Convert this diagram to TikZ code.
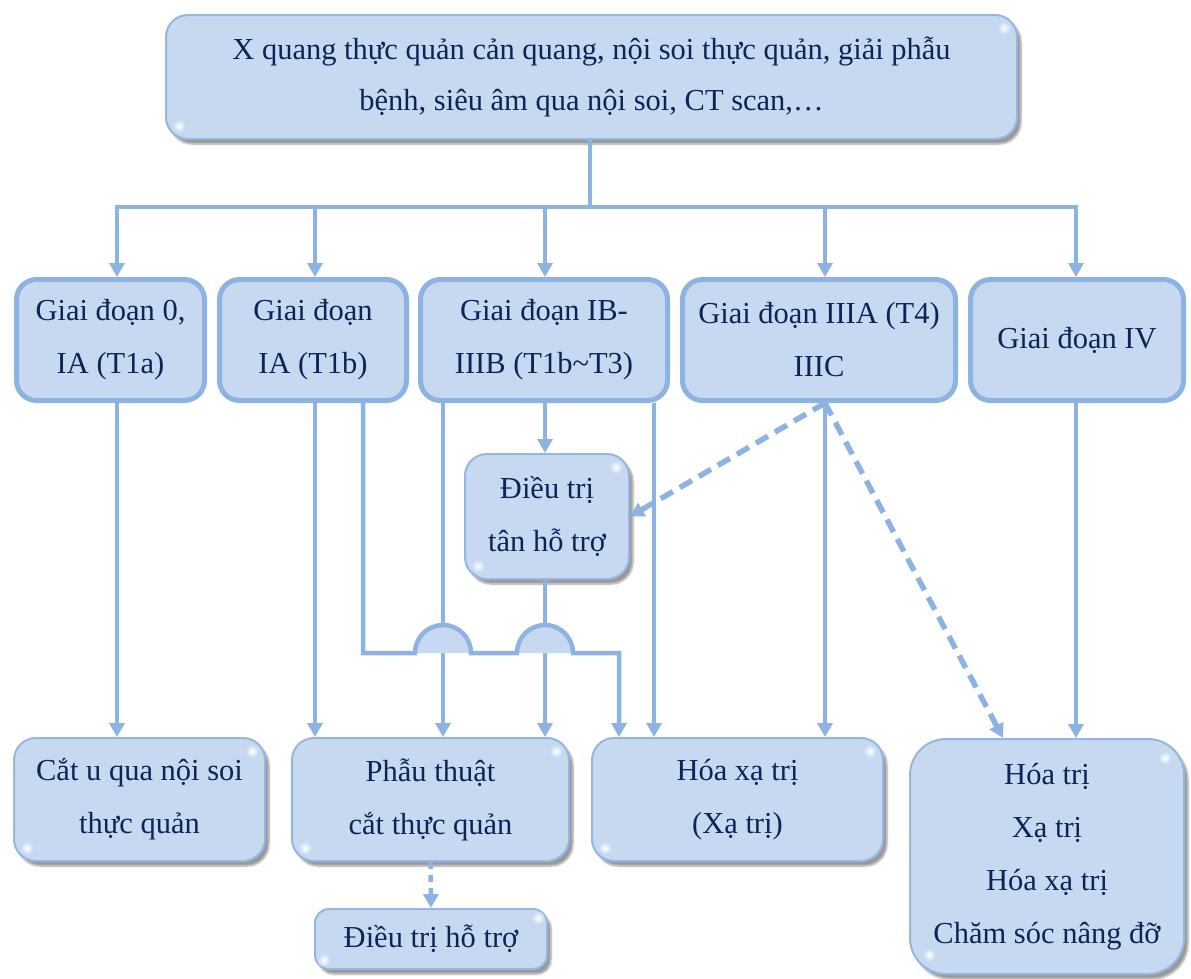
\documentclass[tikz,border=0pt]{standalone}
\usepackage{fontspec}
\setmainfont{Liberation Serif}
\usetikzlibrary{arrows.meta,shadows.blur,calc}
\definecolor{boxfill}{HTML}{C6D9F1}
\definecolor{boxline}{HTML}{8DB3E2}
\definecolor{glossline}{HTML}{95B6E0}
\definecolor{txt}{HTML}{0F2357}
\newcommand\glossspots[2][14]{%
  \shade[inner color=white, outer color=boxfill] ($(#2.north east)+(-#1,#1)$) circle (6.5pt);
  \shade[inner color=white, outer color=boxfill] ($(#2.south west)+(#1,-#1)$) circle (6.5pt);}
\begin{document}
\begin{tikzpicture}[x=1pt,y=-1pt,
  stage/.style={draw=boxline, line width=5pt, fill=boxfill, rounded corners=20pt,
    inner sep=0pt, align=center, minimum height=121pt, text=txt,
    font=\fontsize{30.5}{53}\selectfont},
  glossy/.style={draw=glossline, line width=2pt, fill=boxfill, rounded corners=22pt,
    inner sep=0pt, align=center, text=txt, font=\fontsize{30.5}{53}\selectfont,
    blur shadow={shadow xshift=4pt, shadow yshift=-5pt, shadow blur steps=6, shadow opacity=40}},
  conn/.style={draw=boxline, line width=4.5pt},
  arr/.style={conn, -{Triangle[width=15pt,length=14pt]}},
  dasharr/.style={arr, line width=5.5pt, dash pattern=on 14pt off 8pt},
  dotarr/.style={arr, dash pattern=on 7pt off 6pt}]
\useasboundingbox (0,0) rectangle (1191,978);

% top box
\node[glossy, minimum width=851pt, minimum height=124pt, font=\fontsize{30.5}{51}\selectfont]
  (top) at (591.5,77) {X quang thực quản cản quang, nội soi thực quản, giải phẫu\\bệnh, siêu âm qua nội soi, CT scan,…};

% stage boxes
\node[stage, minimum width=188pt] (s1) at (110.5,340) {Giai đoạn 0,\\IA (T1a)};
\node[stage, minimum width=187pt] (s2) at (313,340) {Giai đoạn\\IA (T1b)};
\node[stage, minimum width=247pt] (s3) at (544,340) {Giai đoạn IB-\\IIIB (T1b{\char"7E}T3)};
\node[stage, minimum width=273pt] (s4) at (819,340) {Giai đoạn IIIA (T4)\\IIIC};
\node[stage, minimum width=213pt] (s5) at (1077,340) {Giai đoạn IV};

% middle and bottom boxes
\node[glossy, minimum width=164pt, minimum height=125pt] (dt) at (547,516.5) {Điều trị\\tân hỗ trợ};
\node[glossy, minimum width=251pt, minimum height=123pt] (c1) at (139.5,799.5) {Cắt u qua nội soi\\thực quản};
\node[glossy, minimum width=277pt, minimum height=123pt] (c2) at (430.5,799.5) {Phẫu thuật\\cắt thực quản};
\node[glossy, minimum width=291pt, minimum height=123pt] (c3) at (737.5,799.5) {Hóa xạ trị\\(Xạ trị)};
\node[glossy, minimum width=274pt, minimum height=235pt, rounded corners=36pt] (c4) at (1047,856.5) {Hóa trị\\Xạ trị\\Hóa xạ trị\\Chăm sóc nâng đỡ};
\node[glossy, minimum width=232pt, minimum height=60pt, rounded corners=14pt] (ht) at (431,939) {Điều trị hỗ trợ};

\foreach \n in {top,dt,c1,c2,c3} {\glossspots{\n}}
\glossspots[20]{c4}
\glossspots[10]{ht}

% coordinates
\coordinate (bus) at (590,207);
\coordinate (b1) at (117,207);
\coordinate (b2) at (315,207);
\coordinate (b3) at (545,207);
\coordinate (b4) at (825,207);
\coordinate (b5) at (1076,207);
\coordinate (a3) at (443,653);
\coordinate (k1) at (363,653);
\coordinate (k2) at (619,653);
\coordinate (r3) at (654,653);
\coordinate (d1) at (1003,700);

% top bus
\draw[conn] (top.south -| bus) -- (bus);
\draw[conn, line cap=rect] (b1) -- (b5);
\foreach \i in {1,...,5} {\draw[arr] (b\i) -- (s\i.north -| b\i);}

% vertical connectors
\draw[arr] (s1.south -| b1) -- (c1.north -| b1);
\draw[arr] (s2.south -| b2) -- (c2.north -| b2);
\draw[arr] (s3.south -| a3) -- (c2.north -| a3);
\draw[arr] (s3.south -| b3) -- (dt.north -| b3);
\draw[arr] (dt.south -| b3) -- (c2.north -| b3);
\draw[arr] (s3.south -| r3) -- (c3.north -| r3);
\draw[arr] (s4.south -| b4) -- (c3.north -| b4);
\draw[arr] (s5.south -| b5) -- (c4.north -| b5);

% hops
\fill[boxfill] (415,653) arc[start angle=180, end angle=0, radius=28pt] -- cycle;
\fill[boxfill] (517,653) arc[start angle=180, end angle=0, radius=28pt] -- cycle;
\draw[arr] (s2.south -| k1) -- (k1) -- (415,653)
  arc[start angle=180, end angle=0, radius=28pt] -- (517,653)
  arc[start angle=180, end angle=0, radius=28pt] -- (k2) -- (c3.north -| k2);

% dashed connectors
\draw[dasharr] (s4.south -| b4) -- (dt.east);
\draw[dasharr] (s4.south -| b4) -- (c4.north -| d1);
\draw[dotarr] (c2.south) -- (ht.north);
\end{tikzpicture}
\end{document}
